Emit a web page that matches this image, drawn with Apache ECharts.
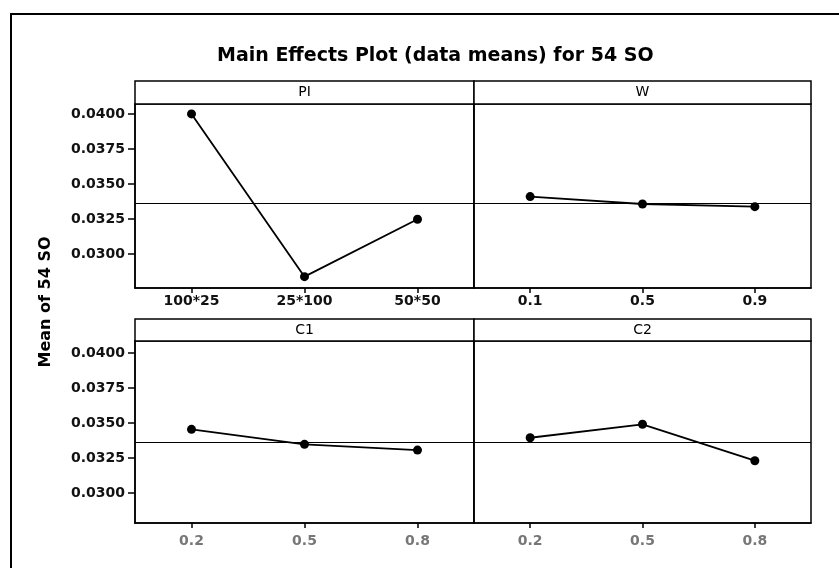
<!DOCTYPE html>
<html>
<head>
<meta charset="utf-8">
<title>Main Effects Plot</title>
<script src="https://cdn.jsdelivr.net/npm/echarts@6/dist/echarts.min.js"></script>
<style>
  html, body { margin: 0; padding: 0; background: #fff; }
  #chart { width: 839px; height: 568px; }
</style>
</head>
<body>
<div id="chart"></div>
<script>
// factor levels
var piLevels = ['100*25', '25*100', '50*50'];
var wLevels = ['0.1', '0.5', '0.9'];
var c1Levels = ['0.2', '0.5', '0.8'];
var c2Levels = ['0.2', '0.5', '0.8'];

// means of 54 SO at each level
var piMeans = [0.0400, 0.02838, 0.03248];
var wMeans = [0.03410, 0.03357, 0.03338];
var c1Means = [0.03455, 0.03348, 0.03307];
var c2Means = [0.03395, 0.03491, 0.03231];

var grandMean = 0.03365;
var yTicks = [0.0300, 0.0325, 0.0350, 0.0375, 0.0400];

var panelNames = ['PI', 'W', 'C1', 'C2'];
var panelLevels = [piLevels, wLevels, c1Levels, c2Levels];
var panelMeans = [piMeans, wMeans, c1Means, c2Means];

var grids = [
  {left: 135, top: 104, width: 339, height: 184},
  {left: 474, top: 104, width: 337, height: 184},
  {left: 135, top: 341, width: 339, height: 182},
  {left: 474, top: 341, width: 337, height: 182}
];
var yRange = [[0.02757, 0.04071], [0.02757, 0.04071], [0.02786, 0.04086], [0.02786, 0.04086]];

var font = 'DejaVu Sans';
var xAxes = [], yAxes = [], series = [], graphics = [];

// outer frame
graphics.push({
  type: 'rect', shape: {x: 11, y: 14, width: 900, height: 700},
  style: {fill: 'none', stroke: '#000', lineWidth: 2}, silent: true
});
// axis title
graphics.push({
  type: 'text', x: 46, y: 302, rotation: Math.PI / 2,
  style: {text: 'Mean of 54 SO', font: 'bold 16px "DejaVu Sans"', fill: '#000',
    align: 'center', verticalAlign: 'middle'}
});

for (var i = 0; i < 4; i++) {
  var g = grids[i];
  g.show = true;
  g.borderColor = '#000';
  g.borderWidth = 1.5;
  g.backgroundColor = '#fff';
  var topRow = i < 2;
  var leftCol = i % 2 === 0;

  xAxes.push({
    type: 'category', gridIndex: i, data: panelLevels[i], boundaryGap: true,
    axisLine: {show: true, lineStyle: {color: '#000', width: 1.5}},
    axisTick: {show: true, alignWithLabel: true, length: 5, lineStyle: {color: '#000', width: 1.5}},
    axisLabel: {color: topRow ? '#111' : '#777', fontFamily: font, fontWeight: 'bold',
      fontSize: 14, margin: topRow ? 6 : 11},
    splitLine: {show: false}
  });
  yAxes.push({
    type: 'value', gridIndex: i, min: yRange[i][0], max: yRange[i][1],
    axisLine: {show: true, lineStyle: {color: '#000', width: 1.5}},
    axisTick: {show: leftCol, length: 7, customValues: yTicks, lineStyle: {color: '#000', width: 1.5}},
    axisLabel: {show: leftCol, customValues: yTicks, color: '#111', fontFamily: font,
      fontWeight: 'bold', fontSize: 14, margin: 10,
      formatter: function (v) { return v.toFixed(4); }},
    splitLine: {show: false}
  });
  series.push({
    type: 'line', xAxisIndex: i, yAxisIndex: i, data: panelMeans[i],
    symbol: 'circle', symbolSize: 9, itemStyle: {color: '#000'},
    lineStyle: {color: '#000', width: 1.8}, animation: false,
    markLine: {
      silent: true, symbol: 'none', precision: 6, label: {show: false},
      lineStyle: {color: '#000', width: 1.2, type: 'solid'},
      data: [{yAxis: grandMean}]
    }
  });

  // header strip
  var hTop = topRow ? 81 : 319;
  var hHeight = g.top - hTop;
  graphics.push({
    type: 'rect', shape: {x: g.left, y: hTop, width: g.width, height: hHeight},
    style: {fill: '#fff', stroke: '#000', lineWidth: 1.5}, silent: true
  });
  graphics.push({
    type: 'text', x: g.left + g.width / 2, y: hTop + hHeight / 2,
    style: {text: panelNames[i], font: '14px "DejaVu Sans"', fill: '#000',
      align: 'center', verticalAlign: 'middle'}
  });
}

var chart = echarts.init(document.getElementById('chart'));
chart.setOption({
  animation: false,
  backgroundColor: '#fff',
  title: {
    text: 'Main Effects Plot (data means) for 54 SO',
    left: 212, top: 42,
    textStyle: {fontFamily: font, fontWeight: 'bold', fontSize: 19, color: '#000'}
  },
  grid: grids,
  xAxis: xAxes,
  yAxis: yAxes,
  series: series,
  graphic: graphics
});
</script>
</body>
</html>
